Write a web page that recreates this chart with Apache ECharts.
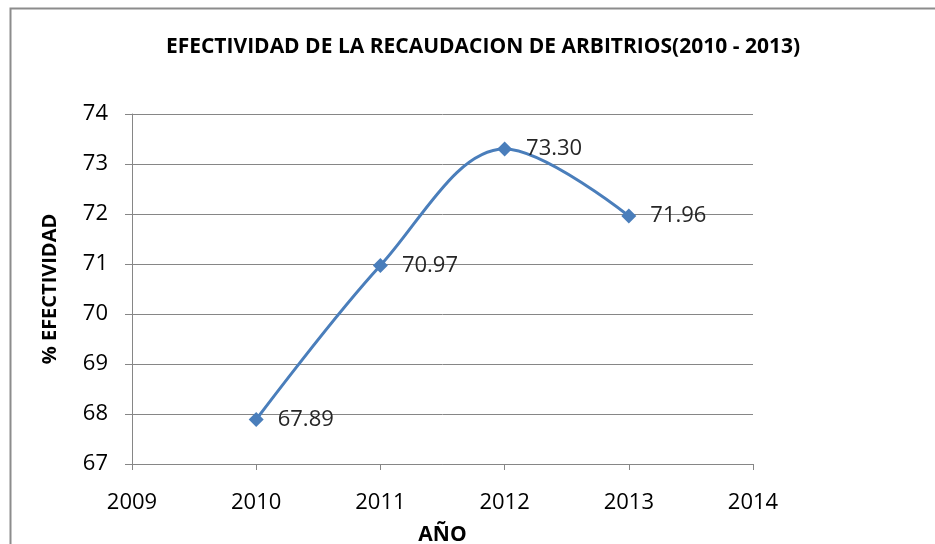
<!DOCTYPE html>
<html><head><meta charset="utf-8">
<script src="https://cdn.jsdelivr.net/npm/echarts@6/dist/echarts.min.js"></script>
<style>html,body{margin:0;padding:0;background:#fff}#c{width:935px;height:544px}</style>
</head><body><div id="c"></div>
<script>
const years = [2010, 2011, 2012, 2013];
const efectividad = [67.89, 70.97, 73.30, 71.96];
const titleText = 'EFECTIVIDAD DE LA RECAUDACION DE ARBITRIOS(2010 - 2013)';
const xName = 'AÑO';
const yName = '% EFECTIVIDAD';

const chart = echarts.init(document.getElementById('c'));
const font = '"Open Sans", "Liberation Sans", sans-serif';
chart.setOption({
  animation: false,
  backgroundColor: '#fff',
  graphic: [{
    type: 'rect', shape: {x: 10.5, y: 8.5, width: 1000, height: 600},
    style: {fill: 'none', stroke: '#8c8c8c', lineWidth: 2}, z: -10
  }],
  title: {
    text: titleText, left: 478, top: 32, textAlign: 'center',
    textStyle: {fontFamily: font, fontSize: 21, fontWeight: 'bold', color: '#000'}
  },
  grid: {left: 132, right: 182, top: 114, bottom: 80, containLabel: false, outerBoundsMode: 'none'},
  xAxis: {
    type: 'value', min: 2009, max: 2014, interval: 1,
    name: xName, nameLocation: 'middle', nameGap: 61,
    nameTextStyle: {fontFamily: font, fontSize: 21, fontWeight: 'bold', color: '#000'},
    axisLine: {show: true, lineStyle: {color: '#868686', width: 1}},
    axisTick: {show: true, length: 6, lineStyle: {color: '#868686'}},
    axisLabel: {fontFamily: font, fontSize: 22, color: '#000', margin: 28, formatter: v => String(v)},
    splitLine: {show: false}
  },
  yAxis: {
    type: 'value', min: 67, max: 74, interval: 1,
    name: yName, nameLocation: 'middle', nameGap: 72, nameRotate: 90,
    nameTextStyle: {fontFamily: font, fontSize: 20, fontWeight: 'bold', color: '#000'},
    axisLine: {show: true, lineStyle: {color: '#868686', width: 1}},
    axisTick: {show: true, inside: false, length: 7, lineStyle: {color: '#868686'}},
    axisLabel: {fontFamily: font, fontSize: 22, color: '#000', margin: 24},
    splitLine: {show: true, lineStyle: {color: '#868686', width: 1}}
  },
  series: [{
    type: 'line',
    data: years.map((y, i) => [y, efectividad[i]]),
    smooth: 0.35,
    symbol: 'diamond', symbolSize: 15,
    lineStyle: {color: '#4A7EBB', width: 3},
    itemStyle: {color: '#4A7EBB'},
    label: {
      show: true, position: 'right', distance: 14,
      fontFamily: font, fontSize: 22, color: '#262626',
      formatter: p => p.value[1].toFixed(2)
    }
  }]
});
</script></body></html>
